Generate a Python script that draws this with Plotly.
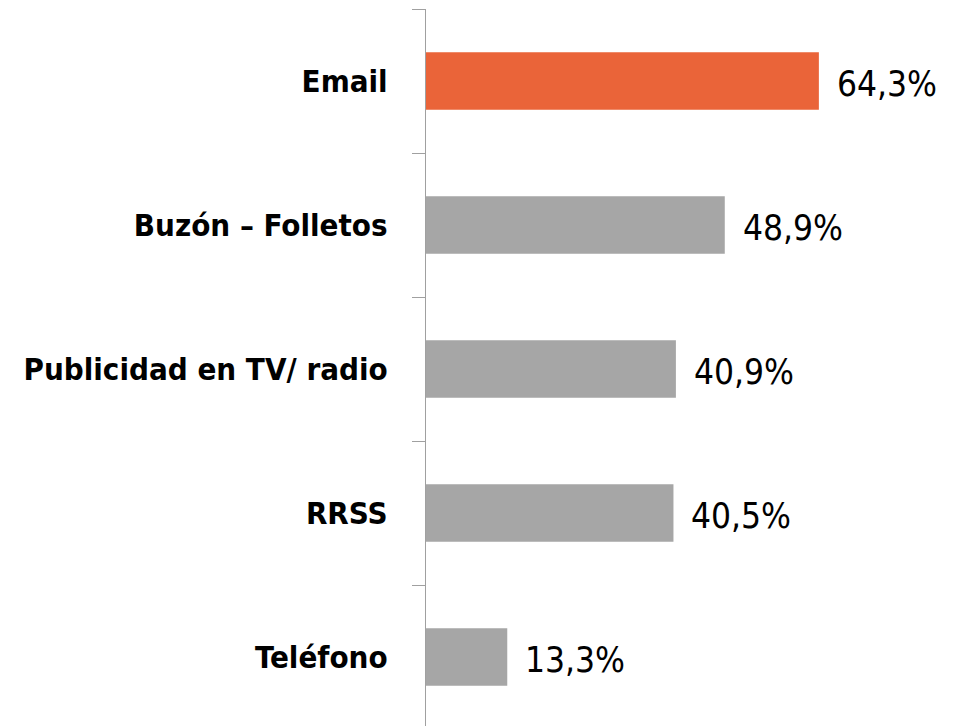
import plotly.graph_objects as go

categories = ["Teléfono", "RRSS", "Publicidad en TV/ radio", "Buzón – Folletos", "Email"]
values = [13.3, 40.5, 40.9, 48.9, 64.3]
labels = ["13,3%", "40,5%", "40,9%", "48,9%", "64,3%"]
colors = ["#A6A6A6", "#A6A6A6", "#A6A6A6", "#A6A6A6", "#EA6439"]

FONT = "Liberation Sans Narrow, Arial Narrow, DejaVu Sans Condensed, Roboto Condensed, sans-serif"

fig = go.Figure()
fig.add_trace(go.Bar(
    y=categories, x=values, orientation="h",
    marker=dict(color=colors, line=dict(width=0)),
    width=0.4, hoverinfo="skip",
))

for c, v, t in zip(categories, values, labels):
    fig.add_annotation(x=v, y=c, text=t, showarrow=False, xanchor="left",
                       yanchor="middle", xshift=16, yshift=-3,
                       font=dict(family=FONT, size=35, color="#000000"))

plot_left = 418
plot_width = 520
px_per_unit = 6.11
fig_w, fig_h = 958, 718

fig.update_layout(
    width=fig_w, height=fig_h,
    margin=dict(l=plot_left, r=fig_w - plot_left - plot_width, t=1, b=0, autoexpand=False),
    paper_bgcolor="white", plot_bgcolor="white",
    showlegend=False,
    xaxis=dict(range=[0, plot_width / px_per_unit], visible=False, fixedrange=True),
    yaxis=dict(
        type="category", categoryorder="array", categoryarray=categories,
        range=[4.5 - 717 / 144, 4.5],
        showline=True, linecolor="#A0A0A0", linewidth=1.3,
        ticks="outside", tickson="boundaries", ticklen=13, tickcolor="#A0A0A0", tickwidth=1.3,
        ticklabelstandoff=31, automargin=False,
        tickfont=dict(family=FONT, size=31, color="#000000", weight="bold"),
        showgrid=False, zeroline=False, fixedrange=True,
    ),
)

fig.write_html("out.html", config={"displayModeBar": False})
